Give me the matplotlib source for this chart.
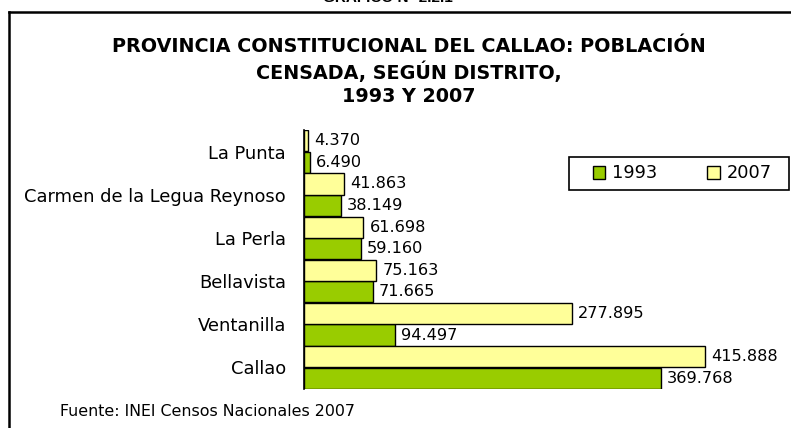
import matplotlib
matplotlib.use("Agg")
import matplotlib.pyplot as plt
from matplotlib.patches import Patch, Rectangle
from matplotlib.lines import Line2D
import numpy as np

districts = ["Callao", "Ventanilla", "Bellavista", "La Perla",
             "Carmen de la Legua Reynoso", "La Punta"]
pop_1993 = [369768, 94497, 71665, 59160, 38149, 6490]
pop_2007 = [415888, 277895, 75163, 61698, 41863, 4370]
labels_1993 = ["369.768", "94.497", "71.665", "59.160", "38.149", "6.490"]
labels_2007 = ["415.888", "277.895", "75.163", "61.698", "41.863", "4.370"]
series_names = ["1993", "2007"]

title = "PROVINCIA CONSTITUCIONAL DEL CALLAO: POBLACIÓN\nCENSADA, SEGÚN DISTRITO,\n1993 Y 2007"
header = "GRÁFICO N° 2.2.1"
source = "Fuente: INEI Censos Nacionales 2007"

GREEN = "#99CC00"
YELLOW = "#FFFF99"

W, H = 791, 428
fig = plt.figure(figsize=(W / 100, H / 100), dpi=100)
fig.patch.set_facecolor("white")

# frame lines (top rule and left border)
fig.add_artist(Line2D([9 / W, 1.0], [1 - 12 / H, 1 - 12 / H], color="black", lw=1.8,
                      transform=fig.transFigure))
fig.add_artist(Line2D([9 / W, 9 / W], [0, 1 - 12 / H], color="black", lw=1.8,
                      transform=fig.transFigure))

# header (cut off at top, as in the original)
fig.text(388 / W, 1 - 2.5 / H, header, ha="center", va="baseline",
         fontsize=11, fontweight="bold", family="Liberation Sans")

# title
fig.text(408.5 / W, 1 - 71.5 / H, title, ha="center", va="center",
         fontsize=13.8, fontweight="bold", family="DejaVu Sans", linespacing=1.3)

ax_left, ax_right, ax_top, ax_bottom = 304, 791, 130, 389
ax = fig.add_axes([ax_left / W, 1 - ax_bottom / H, (ax_right - ax_left) / W,
                   (ax_bottom - ax_top) / H])

y = np.arange(len(districts))
h = 0.49
b1 = ax.barh(y - 0.25, pop_1993, height=h, color=GREEN, edgecolor="black", lw=1,
             label=series_names[0])
b2 = ax.barh(y + 0.25, pop_2007, height=h, color=YELLOW, edgecolor="black", lw=1,
             label=series_names[1])

for bars, labs in ((b1, labels_1993), (b2, labels_2007)):
    for rect, lab in zip(bars, labs):
        ax.annotate(lab, (rect.get_width(), rect.get_y() + rect.get_height() / 2),
                    xytext=(6, 0), textcoords="offset pixels", ha="left", va="center",
                    fontsize=11.6, family="DejaVu Sans",
                    bbox=dict(boxstyle="square,pad=0.05", fc="white", ec="none"))

ax.set_xlim(0, (ax_right - ax_left) / ((705 - 304) / 415888))
ax.set_ylim(-0.5, 5.5)
ax.set_yticks(y)
ax.set_yticklabels(districts, fontsize=12.9, family="DejaVu Sans")
ax.tick_params(axis="y", length=0, pad=13)
ax.set_xticks([])
for s in ("top", "right", "bottom"):
    ax.spines[s].set_visible(False)
ax.spines["left"].set_linewidth(1.2)
ax.patch.set_alpha(0)

# legend box frame
fig.add_artist(Rectangle((569 / W, 1 - 190 / H), 220 / W, 33 / H, transform=fig.transFigure,
                         fill=False, edgecolor="black", lw=1.2))
handles = [Patch(facecolor=GREEN, edgecolor="black", lw=1, label=series_names[0]),
           Patch(facecolor=YELLOW, edgecolor="black", lw=1, label=series_names[1])]
leg = fig.legend(handles=handles, loc="center", ncol=2,
                 bbox_to_anchor=(682.5 / W, 1 - 173.5 / H),
                 prop={"family": "DejaVu Sans", "size": 12.8},
                 frameon=False,
                 handlelength=0.7, handleheight=0.7, handletextpad=0.4,
                 columnspacing=2.8, borderpad=0.35, borderaxespad=0)

fig.text(60 / W, 1 - 411 / H, source, ha="left", va="center",
         fontsize=11.4, family="DejaVu Sans")

fig.savefig("out.png", dpi=100)
